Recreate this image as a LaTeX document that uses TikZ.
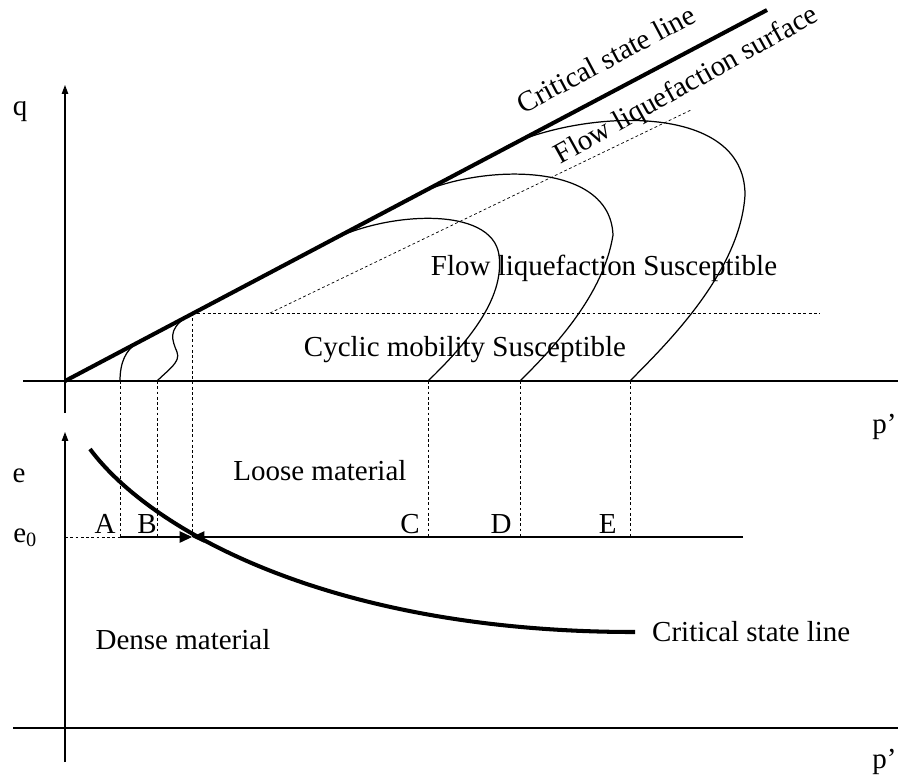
\documentclass[tikz,border=0pt]{standalone}
\usepackage{fontspec}
\setmainfont{Liberation Serif}
\usetikzlibrary{arrows.meta, positioning, calc}

\begin{document}
\begin{tikzpicture}[x=0.02cm, y=-0.02cm, font=\fontsize{16.5}{19}\selectfont,
  axis/.style={line width=0.6pt},
  csl/.style={line width=2.3pt},
  stresspath/.style={line width=0.7pt},
  guide/.style={line width=0.4pt, dash pattern=on 1.6pt off 1.4pt},
  lbl/.style={inner sep=0pt}]
\useasboundingbox (0,0) rectangle (898,775);

% upper plot: q against p'
\coordinate (O)      at (65,381);
\coordinate (qbot)   at (65,413);
\coordinate (qtop)   at (65,85);
\coordinate (pleft)  at (23,381);
\coordinate (pright) at (898,381);
\draw[axis,-{Triangle[length=5pt,width=3.6pt]}] (qbot) -- (qtop);
\draw[axis] (pleft) -- (pright);
\node[lbl, anchor=base] (qlab) at (20,115) {q};
\node[lbl, anchor=base west] (plab) at (872,433) {p’};

\coordinate (cslend) at (767,10);
\draw[csl] (O) -- (cslend);
\node[lbl, rotate=28] (csllab) at (606,59) {Critical state line};

% flow liquefaction surface and cut-off
\coordinate (Fl)  at (192,313);
\coordinate (Fr)  at (820,313);
\coordinate (fs0) at (270,313);
\coordinate (fs1) at (691,110);
\draw[guide] (Fl) -- (Fr);
\draw[guide] (fs0) -- (fs1);
\node[lbl, rotate=29] (fslab) at (687,86) {Flow liquefaction surface};

\node[lbl] (flowlab) at (604,268) {Flow liquefaction Susceptible};
\node[lbl] (cycllab) at (465,350) {Cyclic mobility Susceptible};

% undrained stress paths
\coordinate (sA) at (120,381); \coordinate (tA) at (137,343);
\coordinate (sB) at (157,381); \coordinate (tB) at (185,318);
\coordinate (sC) at (428,381); \coordinate (tC) at (330,241);
\coordinate (sD) at (520,381); \coordinate (tD) at (420,193);
\coordinate (sE) at (630,381); \coordinate (tE) at (505,147);
\draw[stresspath] (sA) .. controls (120,362) and (126,350) .. (tA);
\draw[stresspath] (sB) .. controls (168,370) and (181,362) .. (177,352)
  .. controls (172,340) and (168,330) .. (tB);
\draw[stresspath] (sC) .. controls (465,345) and (505,300) .. (499,255)
  .. controls (492,205) and (385,212) .. (tC);
\draw[stresspath] (sD) .. controls (548,353) and (603,298) .. (613,235)
  .. controls (610,160) and (480,165) .. (tD);
\draw[stresspath] (sE) .. controls (660,350) and (740,275) .. (745,195)
  .. controls (745,100) and (580,110) .. (tE);

% lower plot: e against p'
\coordinate (ebot)    at (65,762);
\coordinate (etop)    at (65,432);
\coordinate (pleft2)  at (13,728);
\coordinate (pright2) at (898,728);
\draw[axis,-{Triangle[length=5pt,width=3.6pt]}] (ebot) -- (etop);
\draw[axis] (pleft2) -- (pright2);
\node[lbl, anchor=base] (elab) at (19,482) {e};
\node[lbl, anchor=base west] (ezlab) at (13,542) {e\textsubscript{0}};
\node[lbl, anchor=base west] (plab2) at (872,768) {p’};

% initial void ratio e0
\coordinate (ezero) at (65,537);
\coordinate (X)     at (192,537);
\coordinate (eend)  at (743,537);
\foreach \n/\x/\lx in {A/120/116,B/157/157,C/428/420,D/520/512,E/630/617}{
  \coordinate (top\n) at (\x,381);
  \coordinate (bot\n) at (\x,537);
  \draw[guide] (top\n) -- (bot\n);
  \node[lbl, anchor=base east] (lab\n) at (\lx,533) {\n};
}
\draw[guide] (Fl) -- (X);
\draw[guide] (ezero) -- (botA);

\coordinate (lc0) at (90,449);
\coordinate (lc1) at (635,632);
\draw[csl] (lc0) .. controls (150,530) and (330,632) .. (lc1);
\node[lbl, anchor=west, right=9.6pt of lc1] (csllab2) {Critical state line};

\draw[axis,-{Triangle[length=7pt,width=6.5pt]}] (botA) -- (X);
\draw[axis,-{Triangle[length=7pt,width=6.5pt]}] (eend) -- (X);

\node[lbl, anchor=base west] (looselab) at (233,480) {Loose material};
\node[lbl] (denselab) at (183,640) {Dense material};
\end{tikzpicture}
\end{document}
